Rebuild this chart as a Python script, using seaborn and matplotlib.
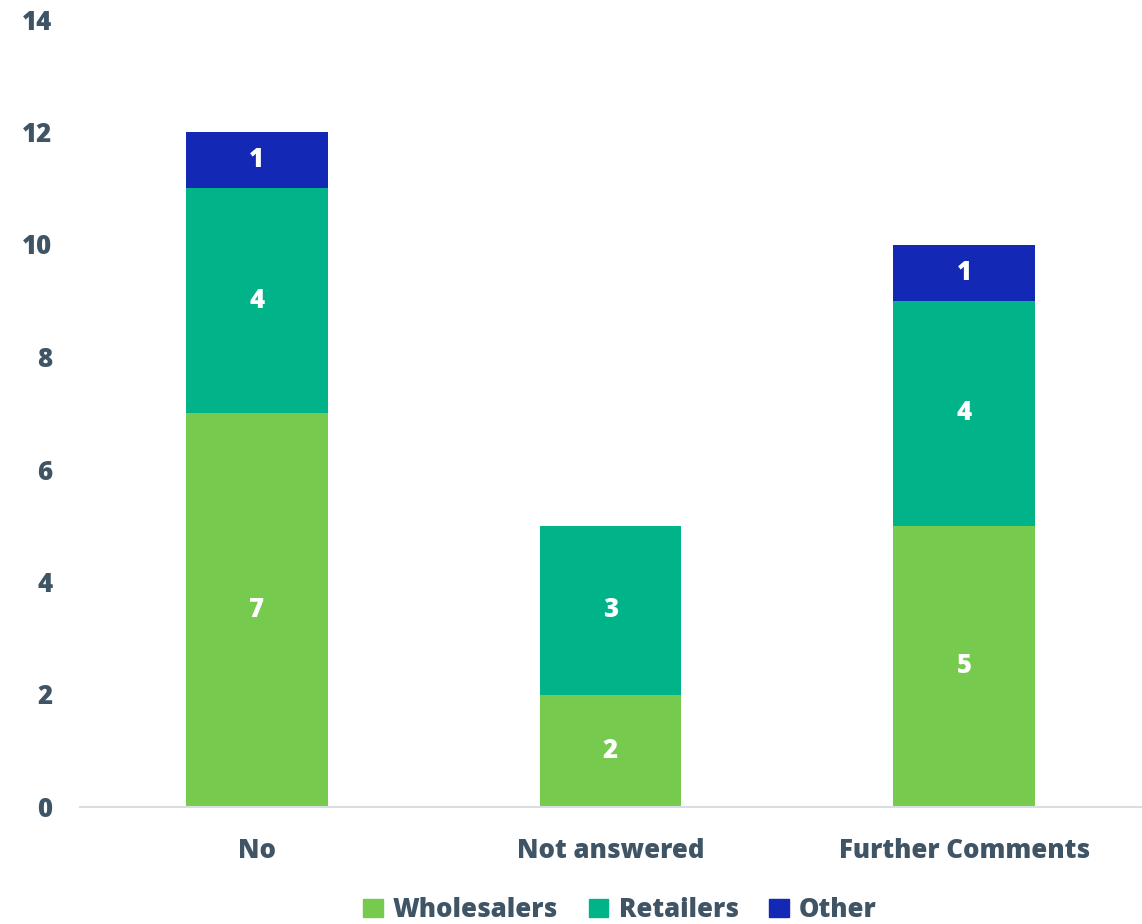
import matplotlib
matplotlib.use("Agg")
import matplotlib.pyplot as plt
import seaborn as sns
import numpy as np
import pandas as pd

categories = ["No", "Not answered", "Further Comments"]
wholesalers = [7, 2, 5]
retailers = [4, 3, 4]
other = [1, 0, 1]
series_names = ["Wholesalers", "Retailers", "Other"]
y_ticks = [0, 2, 4, 6, 8, 10, 12, 14]

colors = ["#76CB4F", "#00B388", "#1428B6"]
text_color = "#3F5566"
weight = 800
fsize = 18.5

sns.set_theme(style="white")
plt.rcParams["font.family"] = ["Open Sans", "DejaVu Sans"]
plt.rcParams["font.weight"] = weight

fig = plt.figure(figsize=(11.42, 9.24), dpi=100)
ax = fig.add_axes([80 / 1142, 1 - 807 / 924, 1061 / 1142, (807 - 19.5) / 924])

df = pd.DataFrame({"category": categories, "Wholesalers": wholesalers,
                   "Retailers": retailers, "Other": other})

bottom = np.zeros(len(categories))
for name, col in zip(series_names, colors):
    vals = df[name].to_numpy(dtype=float)
    sns.barplot(data=df, x="category", y=name, color=col, width=0.4,
                bottom=bottom, ax=ax, saturation=1, linewidth=0)
    cont = ax.containers[-1]
    labels = [f"{int(v)}" if v > 0 else "" for v in vals]
    ax.bar_label(cont, labels=labels, label_type="center", color="white",
                 fontsize=fsize, fontweight=weight)
    bottom = bottom + vals

ax.set_ylim(0, 14)
ax.set_xlim(-0.5, 2.5)
ax.set_yticks(y_ticks)
ax.set_yticklabels([str(t) for t in y_ticks])
ax.set_xlabel("")
ax.set_ylabel("")
ax.tick_params(axis="y", length=0, pad=20, labelsize=fsize, labelcolor=text_color)
ax.tick_params(axis="x", length=0, pad=22, labelsize=fsize, labelcolor=text_color)
for lbl in ax.get_xticklabels() + ax.get_yticklabels():
    lbl.set_fontweight(weight)

for side in ["top", "right", "left"]:
    ax.spines[side].set_visible(False)
ax.spines["bottom"].set_color("#D9DEE4")
ax.spines["bottom"].set_linewidth(1.5)
ax.grid(False)

handles = [plt.Rectangle((0, 0), 1, 1, color=c) for c in colors]
fig.legend(handles, series_names, loc="center", bbox_to_anchor=(0.543, 1 - 910 / 924),
           ncol=3, frameon=False, handlelength=0.75, handleheight=0.75,
           handletextpad=0.4, columnspacing=1.2,
           prop={"family": "Open Sans", "weight": weight, "size": fsize},
           labelcolor=text_color)

fig.savefig("out.png", dpi=100)
